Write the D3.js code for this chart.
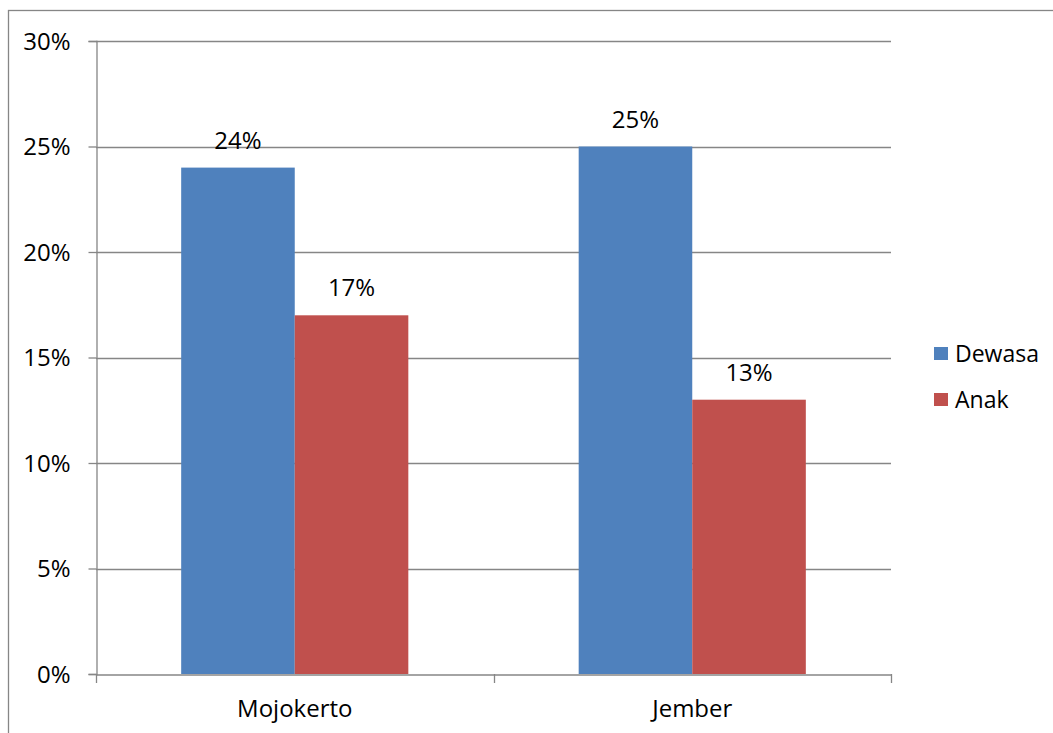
<!DOCTYPE html>
<html>
<head>
<meta charset="utf-8">
<script src="https://cdn.jsdelivr.net/npm/d3@7"></script>
<style>
  body { margin: 0; background: #fff; }
  svg text { font-family: "Open Sans", "Liberation Sans", Arial, sans-serif; fill: #000; }
</style>
</head>
<body>
<div id="chart"></div>
<script>
// Chart data
const categories = ['Mojokerto', 'Jember'];
const seriesNames = ['Dewasa', 'Anak'];
const dewasa = [0.24, 0.25];
const anak = [0.17, 0.13];
const yTicks = [0, 0.05, 0.10, 0.15, 0.20, 0.25, 0.30];
const colors = ['#4F81BD', '#C0504D'];

const width = 1053, height = 733;
const plot = { left: 96, right: 891, top: 41, bottom: 674 };
const gridColor = '#868686';
const fontSize = 24;

const svg = d3.select('#chart').append('svg')
    .attr('width', width)
    .attr('height', height);

// Outer chart border (clipped on the right and bottom)
svg.append('rect')
    .attr('x', 8.5).attr('y', 10.5)
    .attr('width', 1200).attr('height', 1000)
    .attr('fill', 'none')
    .attr('stroke', gridColor)
    .attr('stroke-width', 1.3);

const x0 = d3.scaleBand()
    .domain(categories)
    .range([plot.left, plot.right]);

const x1 = d3.scaleBand()
    .domain(seriesNames)
    .range([0, x0.bandwidth()])
    .paddingOuter(0.75);

const y = d3.scaleLinear()
    .domain([0, 0.30])
    .range([plot.bottom, plot.top]);

// Horizontal gridlines
svg.append('g')
    .selectAll('line')
    .data(yTicks.slice(1))
    .join('line')
    .attr('x1', plot.left).attr('x2', plot.right)
    .attr('y1', d => Math.round(y(d)) + 0.5)
    .attr('y2', d => Math.round(y(d)) + 0.5)
    .attr('stroke', gridColor)
    .attr('stroke-width', 1.3);

// Y axis
const yAxis = svg.append('g')
    .attr('transform', `translate(${plot.left + 0.5},0)`)
    .call(d3.axisLeft(y).tickValues(yTicks).tickFormat(d3.format('.0%')).tickSize(8).tickPadding(18));
yAxis.select('.domain').attr('stroke', gridColor).attr('stroke-width', 1.3);
yAxis.selectAll('.tick line').attr('stroke', gridColor).attr('stroke-width', 1.3);
yAxis.selectAll('.tick text').attr('font-size', fontSize).attr('dy', '0.35em');

// Bars
const rows = categories.map((c, i) => ({ category: c, values: [dewasa[i], anak[i]] }));
const groups = svg.append('g')
    .selectAll('g')
    .data(rows)
    .join('g')
    .attr('transform', d => `translate(${x0(d.category)},0)`);

groups.selectAll('rect')
    .data(d => d.values.map((v, i) => ({ key: seriesNames[i], value: v, color: colors[i] })))
    .join('rect')
    .attr('x', d => x1(d.key))
    .attr('width', x1.bandwidth())
    .attr('y', d => y(d.value))
    .attr('height', d => y(0) - y(d.value))
    .attr('fill', d => d.color);

groups.selectAll('text.value')
    .data(d => d.values.map((v, i) => ({ key: seriesNames[i], value: v })))
    .join('text')
    .attr('class', 'value')
    .attr('x', d => x1(d.key) + x1.bandwidth() / 2)
    .attr('y', d => y(d.value) - 19)
    .attr('text-anchor', 'middle')
    .attr('font-size', fontSize)
    .text(d => d3.format('.0%')(d.value));

// X axis
const xAxis = svg.append('g')
    .attr('transform', `translate(0,${plot.bottom + 0.5})`)
    .call(d3.axisBottom(x0).tickSize(0).tickPadding(25));
xAxis.select('.domain').attr('stroke', gridColor).attr('stroke-width', 1.3);
xAxis.selectAll('.tick text').attr('font-size', fontSize);

// Category separator ticks
svg.append('g')
    .selectAll('line')
    .data([plot.left, x0('Jember'), plot.right])
    .join('line')
    .attr('x1', d => Math.round(d) + 0.5).attr('x2', d => Math.round(d) + 0.5)
    .attr('y1', plot.bottom).attr('y2', plot.bottom + 9)
    .attr('stroke', gridColor)
    .attr('stroke-width', 1.3);

// Legend
const legend = svg.append('g')
    .selectAll('g')
    .data(seriesNames)
    .join('g')
    .attr('transform', (d, i) => `translate(934,${347 + i * 46})`);
legend.append('rect')
    .attr('width', 14).attr('height', 13)
    .attr('fill', (d, i) => colors[i]);
legend.append('text')
    .attr('x', 21).attr('y', 7)
    .attr('dy', '0.35em')
    .attr('font-size', fontSize - 1)
    .text(d => d);
</script>
</body>
</html>
